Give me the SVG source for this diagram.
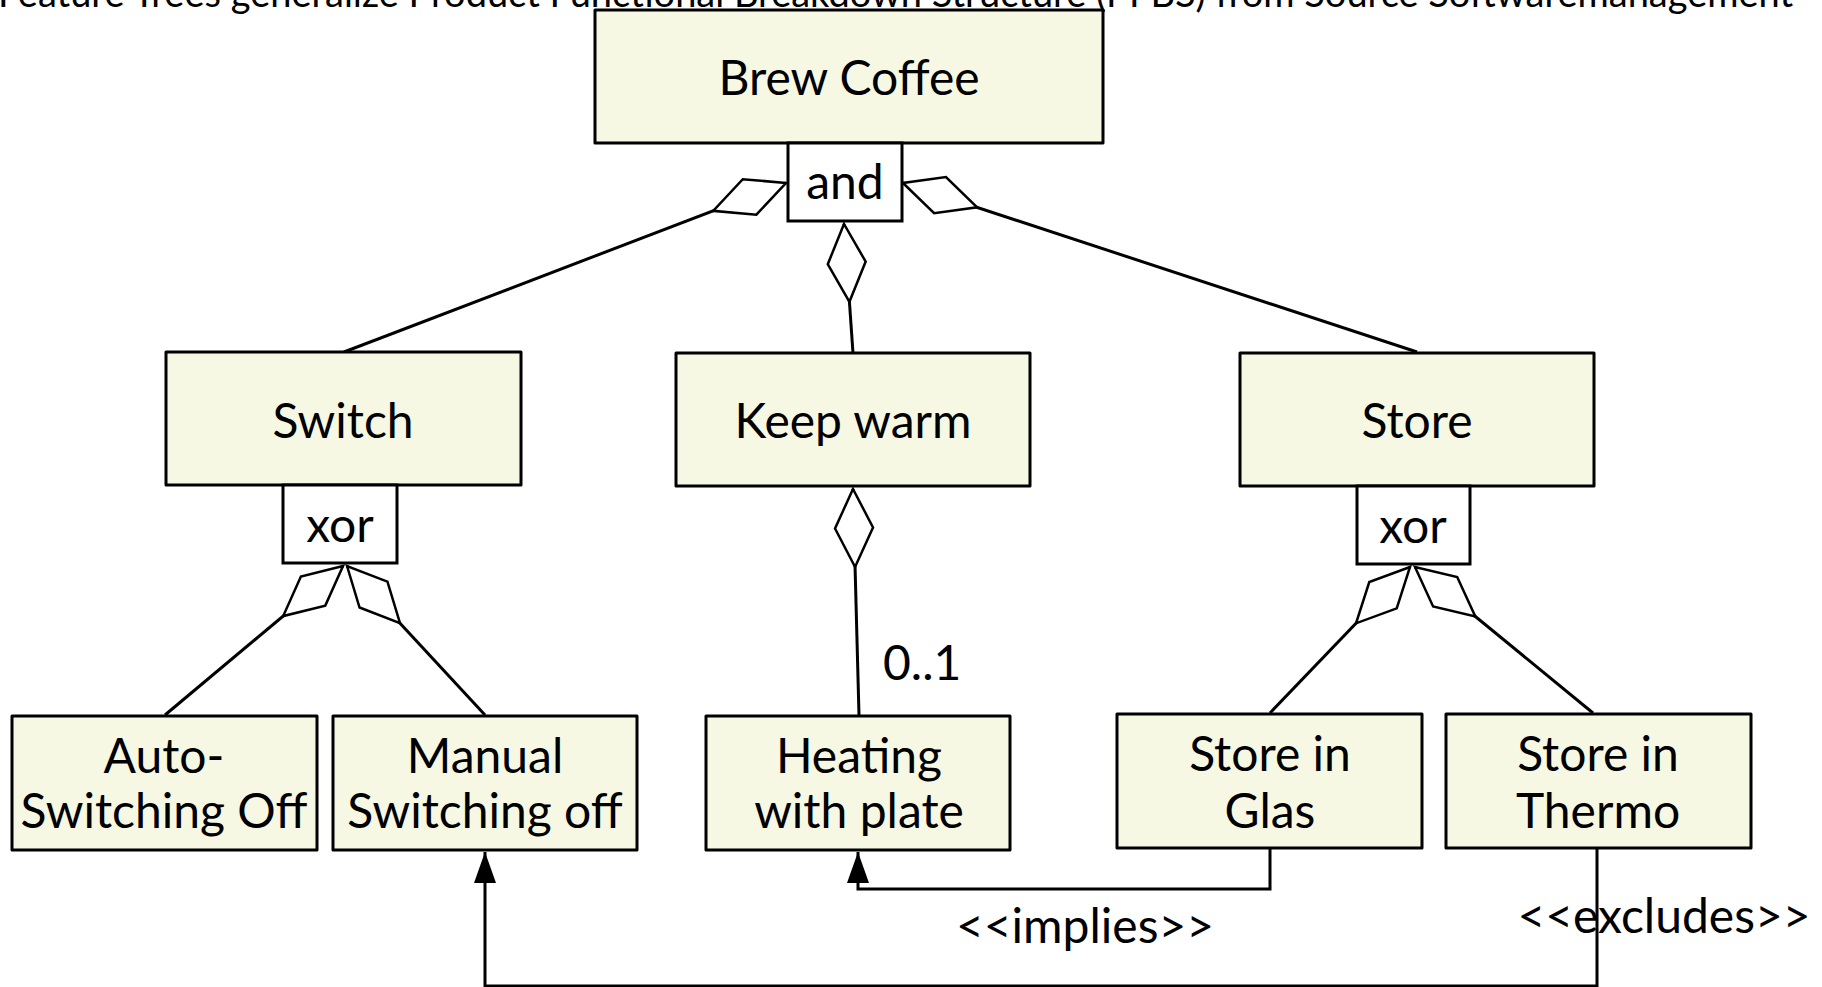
<svg xmlns="http://www.w3.org/2000/svg" width="1822" height="987" viewBox="0 0 1822 987">
<style>
  text { font-family: Lato, "Noto Sans", "Liberation Sans", sans-serif; fill: #000; }
  .lbl { font-size: 48px; text-anchor: middle; }
  .title { font-size: 38px; }
  .node { fill: #F7F8E3; stroke: #000; stroke-width: 3; stroke-linejoin: round; }
  .op { fill: #fff; stroke: #000; stroke-width: 3; }
  .conn { fill: none; stroke: #000; stroke-width: 3; }
  .agg { marker-end: url(#diamond); }
  .dep { marker-end: url(#arrow); }
  .note { font-size: 48px; }
</style>
<defs>
  <marker id="diamond" markerUnits="userSpaceOnUse" viewBox="-2 -2 82 44" refX="78" refY="20" markerWidth="82" markerHeight="44" orient="auto" overflow="visible">
    <path d="M78,20 L39,1 L0,20 L39,39 Z" fill="#fff" stroke="#000" stroke-width="2.5" stroke-linejoin="miter"/>
  </marker>
  <marker id="arrow" markerUnits="userSpaceOnUse" viewBox="0 0 31 22" refX="31" refY="11" markerWidth="31" markerHeight="22" orient="auto">
    <path d="M0,0 L31,11 L0,22 Z" fill="#000"/>
  </marker>
</defs>

<text class="title" x="-2" y="7">Feature Trees generalize Product Functional Breakdown Structure (PFBS) from Source Softwaremanagement</text>

<g id="connectors">
  <line class="conn agg" x1="344" y1="352" x2="786" y2="183"/>
  <line class="conn agg" x1="853" y1="353" x2="844" y2="224"/>
  <line class="conn agg" x1="1417" y1="352" x2="903" y2="183"/>
  <line class="conn agg" x1="165" y1="715" x2="343" y2="566"/>
  <line class="conn agg" x1="485" y1="715" x2="347" y2="566"/>
  <line class="conn agg" x1="859" y1="715" x2="853" y2="489"/>
  <line class="conn agg" x1="1270" y1="713" x2="1410" y2="567"/>
  <line class="conn agg" x1="1593" y1="713" x2="1415" y2="567"/>
  <path class="conn dep" d="M1270,848 V889 H858 V852"/>
  <path class="conn dep" d="M1597,848 V986 H485 V852"/>
  <text class="note" x="883" y="680">0..1</text>
  <text class="note" x="1085" y="943" text-anchor="middle">&lt;&lt;implies&gt;&gt;</text>
  <text class="note" x="1664" y="933" text-anchor="middle">&lt;&lt;excludes&gt;&gt;</text>
</g>

<g id="brew-coffee">
  <rect class="node" x="595" y="10" width="508" height="133"/>
  <text class="lbl" x="849" y="95">Brew Coffee</text>
</g>
<g id="and-op">
  <rect class="op" x="788" y="143" width="114" height="78"/>
  <text class="lbl" x="845" y="199">and</text>
</g>
<g id="switch">
  <rect class="node" x="166" y="352" width="355" height="133"/>
  <text class="lbl" x="343" y="438">Switch</text>
</g>
<g id="switch-xor">
  <rect class="op" x="283" y="485" width="114" height="78"/>
  <text class="lbl" x="340" y="542">xor</text>
</g>
<g id="keep-warm">
  <rect class="node" x="676" y="353" width="354" height="133"/>
  <text class="lbl" x="853" y="438">Keep warm</text>
</g>
<g id="store">
  <rect class="node" x="1240" y="353" width="354" height="133"/>
  <text class="lbl" x="1417" y="438">Store</text>
</g>
<g id="store-xor">
  <rect class="op" x="1357" y="486" width="113" height="78"/>
  <text class="lbl" x="1413" y="543">xor</text>
</g>
<g id="auto-switching-off">
  <rect class="node" x="12" y="716" width="305" height="134"/>
  <text class="lbl" x="164" y="773">Auto-</text>
  <text class="lbl" x="164" y="828">Switching Off</text>
</g>
<g id="manual-switching-off">
  <rect class="node" x="333" y="716" width="304" height="134"/>
  <text class="lbl" x="485" y="773">Manual</text>
  <text class="lbl" x="485" y="828">Switching off</text>
</g>
<g id="heating-with-plate">
  <rect class="node" x="706" y="716" width="304" height="134"/>
  <text class="lbl" x="859" y="773">Heating</text>
  <text class="lbl" x="859" y="828">with plate</text>
</g>
<g id="store-in-glas">
  <rect class="node" x="1117" y="714" width="305" height="134"/>
  <text class="lbl" x="1270" y="771">Store in</text>
  <text class="lbl" x="1270" y="828">Glas</text>
</g>
<g id="store-in-thermo">
  <rect class="node" x="1446" y="714" width="305" height="134"/>
  <text class="lbl" x="1598" y="771">Store in</text>
  <text class="lbl" x="1598" y="828">Thermo</text>
</g>
</svg>
